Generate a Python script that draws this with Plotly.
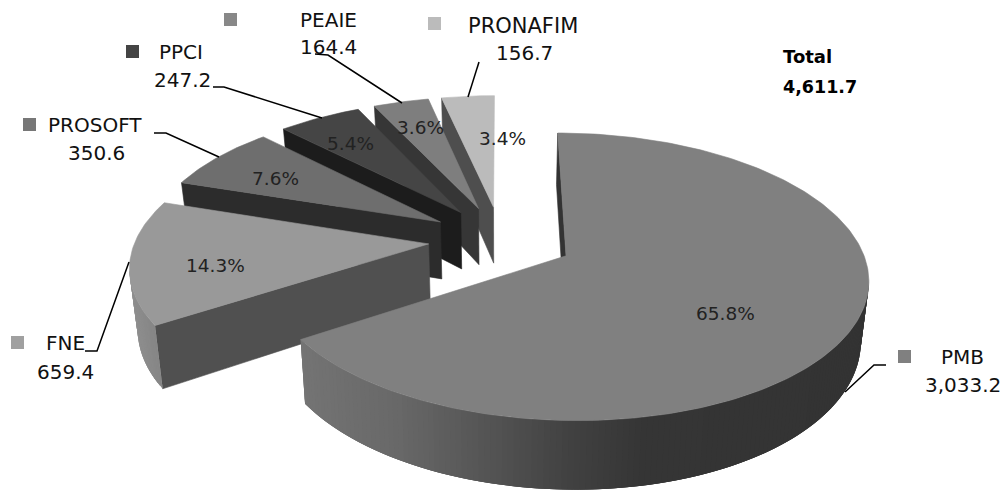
import numpy as np
import plotly.graph_objects as go

# ---- data ----
names = ["PMB", "FNE", "PROSOFT", "PPCI", "PEAIE", "PRONAFIM"]
values = [3033.2, 659.4, 350.6, 247.2, 164.4, 156.7]
value_labels = ["3,033.2", "659.4", "350.6", "247.2", "164.4", "156.7"]
pct_labels = ["65.8%", "14.3%", "7.6%", "5.4%", "3.6%", "3.4%"]
total_title = "Total"
total_label = "4,611.7"

# ---- styles ----
top_colors = ["#808080", "#999999", "#6e6e6e", "#454545", "#7e7e7e", "#bbbbbb"]
cut_colors = ["#333333", "#505050", "#2c2c2c", "#1c1c1c", "#363636", "#4e4e4e"]
key_colors = ["#808080", "#a0a0a0", "#777777", "#444444", "#888888", "#bbbbbb"]
wall_x = [[300, 400, 500, 570, 650, 870], [120, 160]]
wall_g = [[0x74, 0x68, 0x52, 0x42, 0x35, 0x33], [0x92, 0x84]]

# ---- perspective pie model ----
X0, Y0, RX, RY, K, EXPLODE, DEPTH, TAPER = 501.0, 239.5, 293.0, 136.0, 0.1435, 0.248, 58.0, 0.978


def project(px, py, z=0.0):
    s = 1.0 / (1.0 + K * py)
    taper = TAPER if z else 1.0
    return X0 + RX * px * s * taper, Y0 - RY * py * s + z * DEPTH * s


vals = np.array(values)
frac = vals / vals.sum()
edges = np.concatenate([[0.0], np.cumsum(frac)]) * 2 * np.pi

fig = go.Figure()


def poly(xs, ys, color, lw=0.6):
    fig.add_trace(go.Scatter(x=list(xs), y=list(ys), mode="lines", fill="toself",
                             fillcolor=color, line=dict(color=color, width=lw),
                             hoverinfo="skip", showlegend=False))


for i in reversed(range(len(values))):
    a0, a1 = edges[i], edges[i + 1]
    mid = (a0 + a1) / 2
    ax, ay = EXPLODE * np.sin(mid), EXPLODE * np.cos(mid)
    th = np.linspace(a0, a1, max(16, int(np.degrees(a1 - a0))))
    px, py = ax + np.sin(th), ay + np.cos(th)

    # cut face at the start of the slice
    sx0, sy0 = project(ax, ay)
    sx1, sy1 = project(px[0], py[0])
    bx0, by0 = project(ax, ay, 1)
    bx1, by1 = project(px[0], py[0], 1)
    poly([sx0, sx1, bx1, bx0, sx0], [sy0, sy1, by1, by0, sy0], cut_colors[i])

    # outer wall, only where it faces the viewer; strips overlap to hide seams
    tx, ty = project(px, py)
    dx, dy = project(px, py, 1)
    if i < 2:
        vis = [j for j in range(len(th) - 1) if tx[j + 1] < tx[j]]
        for j in vis:
            k = min(j + 3, vis[-1] + 1)
            g = int(round(np.interp(tx[j], wall_x[i], wall_g[i])))
            c = f"rgb({g},{g},{g})"
            xs = np.r_[tx[j:k + 1], dx[j:k + 1][::-1], tx[j]]
            ys = np.r_[ty[j:k + 1], dy[j:k + 1][::-1], ty[j]]
            poly(xs, ys, c, 0)

    # top face
    poly(np.r_[sx0, tx, sx0], np.r_[sy0, ty, sy0], top_colors[i])

# ---- leader lines ----
leaders = [
    [(886, 365), (874, 365), (845, 392)],
    [(85, 351), (97, 351), (129, 262)],
    [(154, 133), (166, 133), (219, 157)],
    [(213, 87), (224, 87), (322, 118)],
    [(315, 54), (328, 55), (402, 103)],
    [(479, 62), (468, 97)],
]
for pts in leaders:
    fig.add_trace(go.Scatter(x=[p[0] for p in pts], y=[p[1] for p in pts], mode="lines",
                             line=dict(color="#000000", width=1.5),
                             hoverinfo="skip", showlegend=False))

# ---- legend keys ----
key_pos = [(904.5, 356.5), (17.5, 342.5), (29.5, 124.5), (132.5, 51.5), (230.5, 19.5), (434.5, 23.5)]
fig.add_trace(go.Scatter(x=[p[0] for p in key_pos], y=[p[1] for p in key_pos], mode="markers",
                         marker=dict(symbol="square", size=13, color=key_colors, line=dict(width=0)),
                         hoverinfo="skip", showlegend=False))

# ---- text ----
FONT = "DejaVu Sans"


def label(x, y, text, size, color="#111111", anchor="center", bold=False):
    fig.add_annotation(x=x, y=y, text=f"<b>{text}</b>" if bold else text, showarrow=False,
                       xanchor=anchor, yanchor="middle",
                       font=dict(family=FONT, size=size, color=color))


name_pos = [(962, 357), (65, 343), (95, 125), (181, 52), (328, 20), (523, 26)]
val_pos = [(963, 385), (65, 372), (96, 153), (182, 80), (328, 47), (524, 53)]
pct_pos = [(725, 313), (215, 265), (275, 178), (350, 143), (420, 127), (502, 138)]
name_sizes = [20, 20, 20, 20, 20, 21]
for i in range(len(names)):
    label(*name_pos[i], names[i], name_sizes[i])
    label(*val_pos[i], value_labels[i], 20)
    label(*pct_pos[i], pct_labels[i], 18.5, "#222222")
label(781, 56, total_title, 18, "#000000", "left", True)
label(781, 87, total_label, 17.5, "#000000", "left", True)

fig.update_layout(
    width=1007, height=492, margin=dict(l=0, r=0, t=0, b=0),
    paper_bgcolor="#ffffff", plot_bgcolor="#ffffff", showlegend=False,
    xaxis=dict(range=[0, 1007], visible=False, fixedrange=True),
    yaxis=dict(range=[492, 0], visible=False, fixedrange=True),
)
fig.write_html("out.html", config={"displayModeBar": False},
               post_script="document.body.style.margin='0';")
